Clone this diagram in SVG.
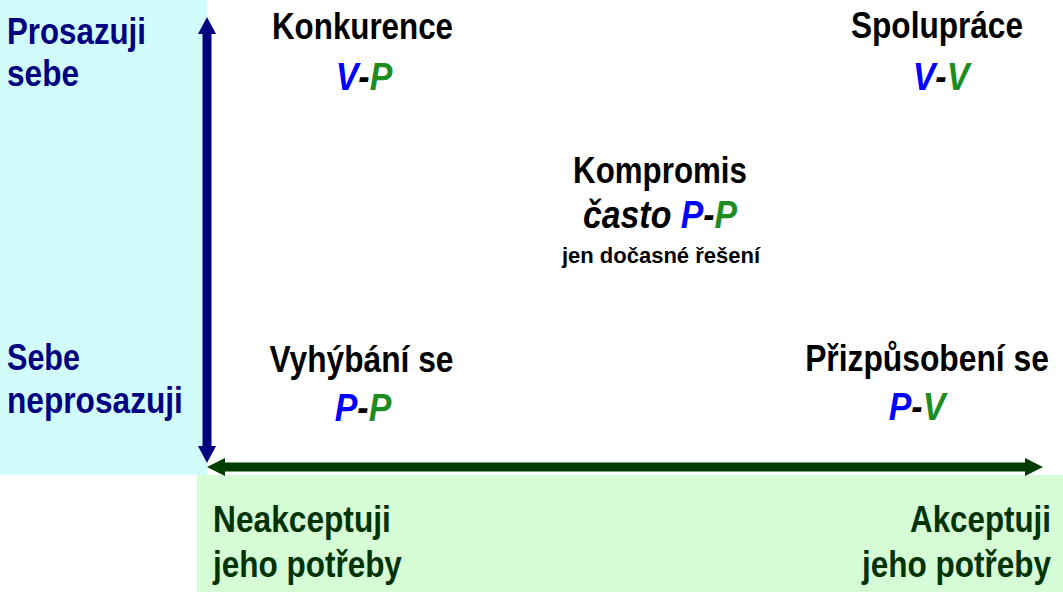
<svg xmlns="http://www.w3.org/2000/svg" width="1063" height="592" viewBox="0 0 1063 592">
<style>
.t{font-family:"Liberation Sans",Arial,sans-serif;font-weight:bold;}
.lbl{font-size:37px;fill:#000;text-anchor:middle;}
.nav{font-size:37px;fill:#000080;}
.grn{font-size:37px;fill:#003300;}
.pair{font-size:39px;font-style:italic;text-anchor:middle;}
.b{fill:#0000FF;}
.g{fill:#1E8C1E;}
.k{fill:#000;}
</style>
<defs>
<marker id="ahV" viewBox="0 0 17 18" refX="0" refY="9" markerWidth="17" markerHeight="18" markerUnits="userSpaceOnUse" orient="auto-start-reverse">
<path d="M0,0 L17,9 L0,18 z" fill="#000080"/>
</marker>
<marker id="ahH" viewBox="0 0 18 18" refX="0" refY="9" markerWidth="18" markerHeight="18" markerUnits="userSpaceOnUse" orient="auto-start-reverse">
<path d="M0,0 L18,9 L0,18 z" fill="#003D00"/>
</marker>
</defs>
<rect width="1063" height="592" fill="#FFFFFF"/>
<g id="panel-cyan">
<rect x="0" y="0" width="207" height="475" fill="#D2FCFC"/>
<text class="t nav" transform="translate(7,44) scale(0.845,1)">Prosazuji</text>
<text class="t nav" transform="translate(7,86) scale(0.854,1)">sebe</text>
<text class="t nav" transform="translate(7,370) scale(0.826,1)">Sebe</text>
<text class="t nav" transform="translate(7,413) scale(0.856,1)">neprosazuji</text>
</g>
<g id="panel-green">
<rect x="197" y="475" width="866" height="117" fill="#D5FCD5"/>
<text class="t grn" transform="translate(213,532) scale(0.857,1)">Neakceptuji</text>
<text class="t grn" transform="translate(213,577) scale(0.851,1)">jeho potřeby</text>
<text class="t grn" text-anchor="end" transform="translate(1051,532) scale(0.847,1)">Akceptuji</text>
<text class="t grn" text-anchor="end" transform="translate(1051,577) scale(0.851,1)">jeho potřeby</text>
</g>
<g id="connectors">
<line x1="207" y1="34" x2="207" y2="446" stroke="#000080" stroke-width="9" marker-start="url(#ahV)" marker-end="url(#ahV)"/>
<line x1="225" y1="467" x2="1025" y2="467" stroke="#003D00" stroke-width="9" marker-start="url(#ahH)" marker-end="url(#ahH)"/>
</g>
<g id="konkurence">
<text class="t lbl" transform="translate(362.5,39) scale(0.847,1)">Konkurence</text>
<text class="t pair" transform="translate(364,90) scale(0.87,1)"><tspan class="b">V</tspan><tspan class="k">-</tspan><tspan class="g">P</tspan></text>
</g>
<g id="spoluprace">
<text class="t lbl" transform="translate(937,38) scale(0.854,1)">Spolupráce</text>
<text class="t pair" transform="translate(941,90) scale(0.87,1)"><tspan class="b">V</tspan><tspan class="k">-</tspan><tspan class="g">V</tspan></text>
</g>
<g id="kompromis">
<text class="t lbl" transform="translate(660,183) scale(0.846,1)">Kompromis</text>
<text class="t pair" transform="translate(660,228) scale(0.867,1)"><tspan class="k">často </tspan><tspan class="b">P</tspan><tspan class="k">-</tspan><tspan class="g">P</tspan></text>
<text class="t" text-anchor="middle" font-size="22" fill="#000" transform="translate(661,263)">jen dočasné řešení</text>
</g>
<g id="vyhybani">
<text class="t lbl" transform="translate(361.5,372) scale(0.857,1)">Vyhýbání se</text>
<text class="t pair" transform="translate(363,421) scale(0.87,1)"><tspan class="b">P</tspan><tspan class="k">-</tspan><tspan class="g">P</tspan></text>
</g>
<g id="prizpusobeni">
<text class="t lbl" transform="translate(927,371) scale(0.859,1)">Přizpůsobení se</text>
<text class="t pair" transform="translate(917,420) scale(0.87,1)"><tspan class="b">P</tspan><tspan class="k">-</tspan><tspan class="g">V</tspan></text>
</g>
</svg>
